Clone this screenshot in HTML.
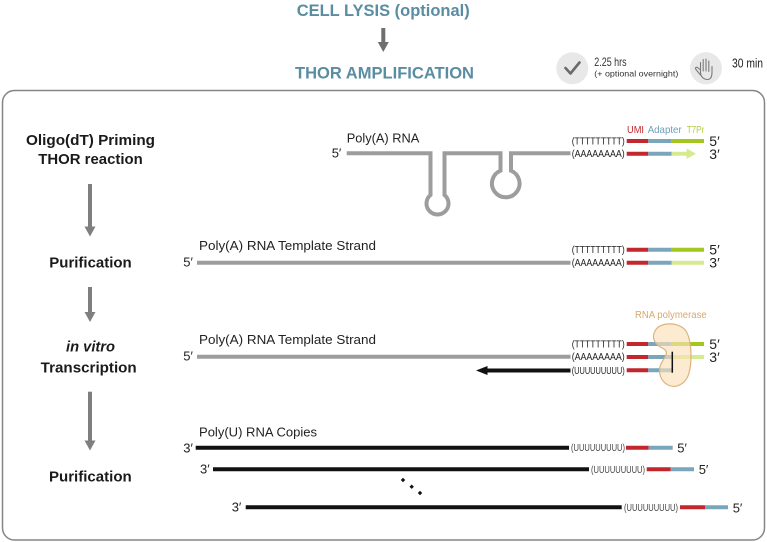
<!DOCTYPE html>
<html><head><meta charset="utf-8"><style>
html,body{margin:0;padding:0;background:#fff;}
svg{display:block;}
text{font-family:"Liberation Sans",sans-serif;}
</style></head><body>
<svg width="767" height="542" viewBox="0 0 767 542" xmlns="http://www.w3.org/2000/svg">
<rect x="0" y="0" width="767" height="542" fill="#fff"/>
<!-- header -->
<text x="296.7" y="16" font-size="16.5" font-weight="bold" fill="#5a8ca2" textLength="173" lengthAdjust="spacingAndGlyphs">CELL LYSIS (optional)</text>
<line x1="383.3" y1="28" x2="383.3" y2="43" stroke="#6f6f6f" stroke-width="4"/>
<polygon points="377.8,42 388.8,42 383.3,52" fill="#6f6f6f"/>
<text x="295" y="78.3" font-size="16.5" font-weight="bold" fill="#5a8ca2" textLength="179" lengthAdjust="spacingAndGlyphs">THOR AMPLIFICATION</text>

<!-- icons -->
<circle cx="572.3" cy="68.3" r="16" fill="#e8e8e8"/>
<path d="M565.5,68 L570.5,73.5 L579.5,62.5" fill="none" stroke="#6a6a6a" stroke-width="2.6" stroke-linecap="round" stroke-linejoin="round"/>
<text x="594.3" y="66" font-size="12" fill="#333" textLength="32.3" lengthAdjust="spacingAndGlyphs">2.25 hrs</text>
<text x="594.3" y="76.3" font-size="8.5" fill="#333" textLength="84" lengthAdjust="spacingAndGlyphs">(+ optional overnight)</text>
<circle cx="706" cy="68.3" r="16" fill="#e8e8e8"/>
<path d="M700.5,72 L700.5,62.5 M703.2,71 L703.2,59.5 M706,71 L706,59 M708.8,71.5 L708.8,61 M700.5,72 C700.5,77 704,79.5 707.5,79.5 C711,79.5 712,76 712,72 L712,66.5 M700.5,70 L697.5,67.5 C696,66.5 694.8,68 696,69.5 L700.5,75" fill="none" stroke="#7a7a7a" stroke-width="1.1" stroke-linecap="round" stroke-linejoin="round"/>
<text x="732" y="67.5" font-size="12.5" fill="#222" textLength="31" lengthAdjust="spacingAndGlyphs">30 min</text>

<!-- main box -->
<rect x="2.5" y="90.5" width="762" height="449.5" rx="12" ry="12" fill="none" stroke="#858585" stroke-width="1.5"/>

<!-- left labels -->
<g font-weight="bold" font-size="15" fill="#1a1a1a">
<text x="26" y="145" textLength="129" lengthAdjust="spacingAndGlyphs">Oligo(dT) Priming</text>
<text x="38.3" y="164" textLength="104.4" lengthAdjust="spacingAndGlyphs">THOR reaction</text>
<text x="49.3" y="267.3" textLength="82.4" lengthAdjust="spacingAndGlyphs">Purification</text>
<text x="66" y="351.7" font-style="italic" textLength="49" lengthAdjust="spacingAndGlyphs">in vitro</text>
<text x="40.7" y="372.7" textLength="96" lengthAdjust="spacingAndGlyphs">Transcription</text>
<text x="49" y="481.7" textLength="82.7" lengthAdjust="spacingAndGlyphs">Purification</text>
</g>
<g fill="#7f7f7f">
<rect x="88" y="184" width="4" height="44"/><polygon points="84.5,226.5 95.5,226.5 90,236.5"/>
<rect x="88" y="287" width="4" height="26"/><polygon points="84.5,312 95.5,312 90,322"/>
<rect x="88" y="391.7" width="4" height="50"/><polygon points="84.5,440.5 95.5,440.5 90,450.5"/>
</g>

<!-- block 1: Poly(A) RNA with stem loops -->
<text x="346.7" y="142.7" font-size="13" fill="#222" textLength="72.6" lengthAdjust="spacingAndGlyphs">Poly(A) RNA</text>
<text x="331.7" y="157.5" font-size="13" fill="#222">5′</text>
<path d="M346.7,153.3 H430.5 V195 A11,11 0 1 0 444.5,195 V153.3 H500.5 V170.7 A13.8,13.8 0 1 0 511,170.7 V153.3 H570.5" fill="none" stroke="#9d9d9d" stroke-width="4"/>

<!-- right block 1 -->
<text x="627" y="133" font-size="10.5" fill="#c1272d" textLength="17" lengthAdjust="spacingAndGlyphs">UMI</text>
<text x="647.7" y="133" font-size="10.5" fill="#6f9fb7" textLength="34" lengthAdjust="spacingAndGlyphs">Adapter</text>
<text x="686.7" y="133" font-size="10.5" fill="#b0cc45" textLength="17.6" lengthAdjust="spacingAndGlyphs">T7Pr</text>
<g font-size="10" fill="#222">
<text x="571.7" y="144.5" textLength="53" lengthAdjust="spacingAndGlyphs">(TTTTTTTTT)</text>
<text x="571.7" y="157.2" textLength="53" lengthAdjust="spacingAndGlyphs">(AAAAAAAA)</text>
</g>
<g stroke-width="4">
<line x1="626.7" y1="141" x2="648.3" y2="141" stroke="#c1272d"/>
<line x1="648.3" y1="141" x2="671.7" y2="141" stroke="#7aa6bb"/>
<line x1="671.7" y1="141" x2="704" y2="141" stroke="#a3c71c"/>
<line x1="626.7" y1="153.7" x2="648.3" y2="153.7" stroke="#c1272d"/>
<line x1="648.3" y1="153.7" x2="671.7" y2="153.7" stroke="#7aa6bb"/>
<line x1="671.7" y1="153.7" x2="688" y2="153.7" stroke="#d4ec8f"/>
</g>
<polygon points="686.5,148.5 696,153.7 686.5,158.9" fill="#d4ec8f"/>
<text x="709.3" y="146" font-size="14" fill="#222">5′</text>
<text x="709.3" y="159" font-size="14" fill="#222">3′</text>

<!-- block 2: template strand -->
<text x="199" y="250" font-size="13" fill="#222" textLength="177" lengthAdjust="spacingAndGlyphs">Poly(A) RNA Template Strand</text>
<text x="183.3" y="266.7" font-size="13" fill="#222">5′</text>
<line x1="197" y1="262.7" x2="570.5" y2="262.7" stroke="#9d9d9d" stroke-width="4"/>
<g font-size="10" fill="#222">
<text x="571.7" y="253.2" textLength="53" lengthAdjust="spacingAndGlyphs">(TTTTTTTTT)</text>
<text x="571.7" y="266.2" textLength="53" lengthAdjust="spacingAndGlyphs">(AAAAAAAA)</text>
</g>
<g stroke-width="4">
<line x1="626.7" y1="249.7" x2="648.3" y2="249.7" stroke="#c1272d"/>
<line x1="648.3" y1="249.7" x2="671.7" y2="249.7" stroke="#7aa6bb"/>
<line x1="671.7" y1="249.7" x2="704" y2="249.7" stroke="#a3c71c"/>
<line x1="626.7" y1="262.7" x2="648.3" y2="262.7" stroke="#c1272d"/>
<line x1="648.3" y1="262.7" x2="671.7" y2="262.7" stroke="#7aa6bb"/>
<line x1="671.7" y1="262.7" x2="704" y2="262.7" stroke="#d4ec8f"/>
</g>
<text x="709.3" y="254.7" font-size="14" fill="#222">5′</text>
<text x="709.3" y="267.7" font-size="14" fill="#222">3′</text>

<!-- block 3: in vitro transcription -->
<text x="199" y="344" font-size="13" fill="#222" textLength="177" lengthAdjust="spacingAndGlyphs">Poly(A) RNA Template Strand</text>
<text x="183.3" y="360.7" font-size="13" fill="#222">5′</text>
<line x1="197" y1="356.7" x2="570.5" y2="356.7" stroke="#9d9d9d" stroke-width="4"/>
<line x1="486" y1="370.5" x2="570.5" y2="370.5" stroke="#111" stroke-width="4"/>
<polygon points="487.5,366 476,370.5 487.5,375" fill="#111"/>
<g font-size="10" fill="#222">
<text x="571.7" y="347.5" textLength="53" lengthAdjust="spacingAndGlyphs">(TTTTTTTTT)</text>
<text x="571.7" y="360.2" textLength="53" lengthAdjust="spacingAndGlyphs">(AAAAAAAA)</text>
<text x="571.7" y="374" textLength="53" lengthAdjust="spacingAndGlyphs">(UUUUUUUUU)</text>
</g>
<g stroke-width="4">
<line x1="626.7" y1="344" x2="648.3" y2="344" stroke="#c1272d"/>
<line x1="648.3" y1="344" x2="671.7" y2="344" stroke="#7aa6bb"/>
<line x1="671.7" y1="344" x2="704" y2="344" stroke="#a3c71c"/>
<line x1="626.7" y1="357" x2="648.3" y2="357" stroke="#c1272d"/>
<line x1="648.3" y1="357" x2="671.7" y2="357" stroke="#7aa6bb"/>
<line x1="671.7" y1="357" x2="704" y2="357" stroke="#d4ec8f"/>
<line x1="626.7" y1="370.3" x2="648.3" y2="370.3" stroke="#c1272d"/>
<line x1="648.3" y1="370.3" x2="672.3" y2="370.3" stroke="#7aa6bb"/>
</g>
<path d="M655,331 C659,322 679,321 686,331 C692,341 692,362 689,373 C686,384 676,389 668,385 C660,381 657,370 662,362 C665,357 669,352 664,349 C655,345 651,338 655,331 Z" fill="#fbe0b8" fill-opacity="0.65" stroke="#dcb37d" stroke-width="1.2"/>
<line x1="672.3" y1="351.7" x2="672.3" y2="372.7" stroke="#111" stroke-width="1.5"/>
<text x="635" y="318" font-size="10.5" fill="#d7a86b" textLength="71.7" lengthAdjust="spacingAndGlyphs">RNA polymerase</text>
<text x="709.3" y="349" font-size="14" fill="#222">5′</text>
<text x="709.3" y="362" font-size="14" fill="#222">3′</text>

<!-- block 4: poly(U) copies -->
<text x="199" y="436.7" font-size="13" fill="#222" textLength="118" lengthAdjust="spacingAndGlyphs">Poly(U) RNA Copies</text>
<g font-size="13" fill="#222">
<text x="183.3" y="452.7">3′</text>
<text x="200" y="473.5">3′</text>
<text x="231.7" y="511.7">3′</text>
<text x="677.3" y="452.3">5′</text>
<text x="698.7" y="474">5′</text>
<text x="732.7" y="512.3">5′</text>
</g>
<g stroke="#111" stroke-width="4">
<line x1="195.7" y1="447.7" x2="569" y2="447.7"/>
<line x1="213" y1="469.3" x2="589" y2="469.3"/>
<line x1="245.7" y1="507.3" x2="621.7" y2="507.3"/>
</g>
<g font-size="10" fill="#444">
<text x="571" y="451.2" textLength="54" lengthAdjust="spacingAndGlyphs">(UUUUUUUUU)</text>
<text x="591" y="472.8" textLength="54" lengthAdjust="spacingAndGlyphs">(UUUUUUUUU)</text>
<text x="624" y="510.8" textLength="54" lengthAdjust="spacingAndGlyphs">(UUUUUUUUU)</text>
</g>
<g stroke-width="4">
<line x1="626" y1="447.7" x2="648.7" y2="447.7" stroke="#c1272d"/>
<line x1="648.7" y1="447.7" x2="672.7" y2="447.7" stroke="#7aa6bb"/>
<line x1="646.7" y1="469.3" x2="670.7" y2="469.3" stroke="#c1272d"/>
<line x1="670.7" y1="469.3" x2="694" y2="469.3" stroke="#7aa6bb"/>
<line x1="680" y1="507.3" x2="705" y2="507.3" stroke="#c1272d"/>
<line x1="705" y1="507.3" x2="728" y2="507.3" stroke="#7aa6bb"/>
</g>
<g fill="#111">
<polygon points="403,477.8 405.2,480 403,482.2 400.8,480"/>
<polygon points="411.7,484.5 413.9,486.7 411.7,488.9 409.5,486.7"/>
<polygon points="420,490.8 422.2,493 420,495.2 417.8,493"/>
</g>
</svg>
</body></html>
